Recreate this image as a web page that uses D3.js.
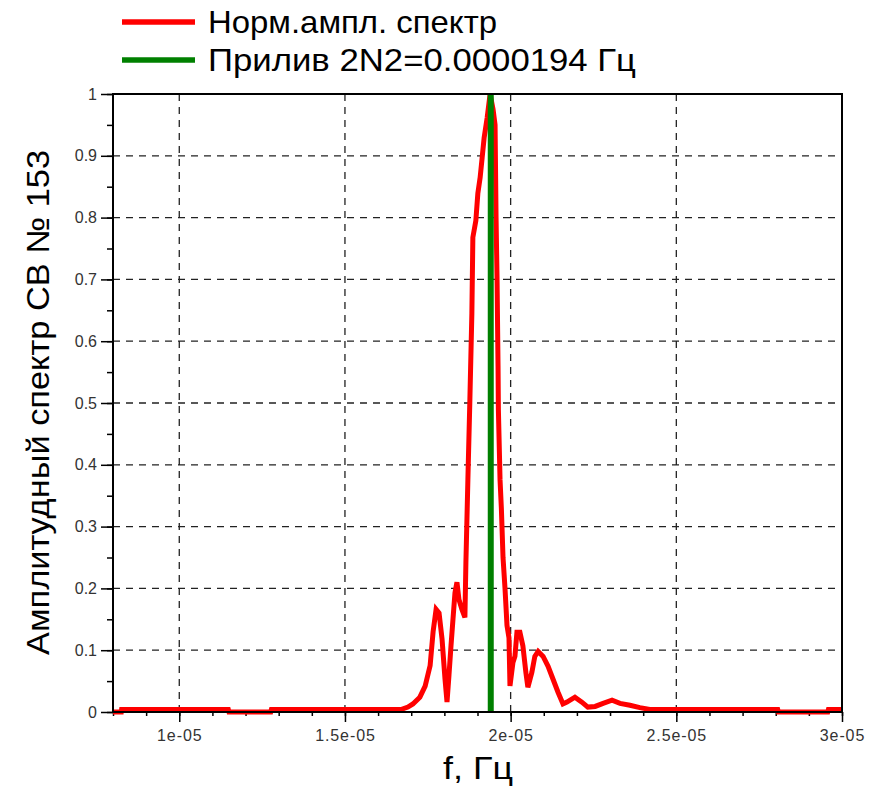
<!DOCTYPE html>
<html>
<head>
<meta charset="utf-8">
<script src="https://cdn.jsdelivr.net/npm/d3@7"></script>
<style>
    body { margin: 0; background: #fff; }
    .chart text { font-family: "Liberation Sans", Arial, sans-serif; }
</style>
</head>
<body>
<div class="chart"></div>
<script>
// spectrum, frequency in Hz
var freq = [
    0.800e-5, 0.825e-5, 0.826e-5, 1.148e-5, 1.150e-5, 1.276e-5, 1.278e-5, 1.669e-5,
    1.690e-5, 1.705e-5, 1.726e-5, 1.742e-5, 1.757e-5, 1.766e-5, 1.775e-5, 1.784e-5,
    1.793e-5, 1.802e-5, 1.808e-5, 1.814e-5, 1.820e-5, 1.826e-5, 1.832e-5, 1.838e-5,
    1.844e-5, 1.853e-5, 1.862e-5, 1.865e-5, 1.871e-5, 1.877e-5, 1.883e-5, 1.886e-5,
    1.895e-5, 1.901e-5, 1.908e-5, 1.914e-5, 1.920e-5, 1.929e-5, 1.938e-5, 1.947e-5,
    1.953e-5, 1.956e-5, 1.959e-5, 1.962e-5, 1.963e-5, 1.968e-5, 1.972e-5, 1.977e-5,
    1.983e-5, 1.989e-5, 1.995e-5, 1.998e-5, 2.007e-5, 2.013e-5, 2.019e-5, 2.028e-5,
    2.037e-5, 2.046e-5, 2.052e-5, 2.064e-5, 2.073e-5, 2.083e-5, 2.098e-5, 2.113e-5,
    2.128e-5, 2.143e-5, 2.158e-5, 2.170e-5, 2.194e-5, 2.215e-5, 2.233e-5, 2.255e-5,
    2.279e-5, 2.306e-5, 2.330e-5, 2.360e-5, 2.390e-5, 2.420e-5, 2.806e-5, 2.808e-5,
    2.957e-5, 2.959e-5, 3.000e-5
];
var ampl = [
    0.000, 0.000, 0.004, 0.004, 0.000, 0.000, 0.004, 0.004,
    0.008, 0.013, 0.024, 0.042, 0.075, 0.130, 0.166, 0.160,
    0.118, 0.053, 0.016, 0.060, 0.107, 0.150, 0.193, 0.210,
    0.182, 0.166, 0.153, 0.242, 0.376, 0.505, 0.645, 0.768,
    0.795, 0.839, 0.865, 0.897, 0.929, 0.961, 1.000, 0.975,
    0.950, 0.800, 0.700, 0.560, 0.490, 0.376, 0.330, 0.250,
    0.200, 0.140, 0.120, 0.042, 0.080, 0.090, 0.129, 0.129,
    0.107, 0.064, 0.040, 0.064, 0.090, 0.098, 0.090, 0.074,
    0.053, 0.032, 0.013, 0.016, 0.024, 0.016, 0.008, 0.009,
    0.014, 0.019, 0.014, 0.011, 0.007, 0.004, 0.004, 0.000,
    0.000, 0.004, 0.004
];
var tideFreq = 1.94e-5;

var xDomain = [0.8e-5, 3e-5];
var xTicks = [1e-5, 1.5e-5, 2e-5, 2.5e-5, 3e-5];
var xTickLabels = ["1e-05", "1.5e-05", "2e-05", "2.5e-05", "3e-05"];
var yTicks = [0, 0.1, 0.2, 0.3, 0.4, 0.5, 0.6, 0.7, 0.8, 0.9, 1];
var yTickLabels = ["0", "0.1", "0.2", "0.3", "0.4", "0.5", "0.6", "0.7", "0.8", "0.9", "1"];
var legendLabels = ["Норм.ампл. спектр", "Прилив 2N2=0.0000194 Гц"];
var legendColors = ["#ff0000", "#008000"];
var xTitle = "f, Гц";
var yTitle = "Амплитудный спектр СВ № 153";

var width = 882, height = 789,
    margin = {top: 94, right: 40, bottom: 77, left: 113},
    plotWidth = width - margin.left - margin.right,
    plotHeight = height - margin.top - margin.bottom;

var svg = d3.select(".chart").append("svg").attr("width", width).attr("height", height);
var plot = svg.append("g").attr("transform", "translate(" + margin.left + "," + margin.top + ")");

var xScale = d3.scaleLinear().domain(xDomain).range([0, plotWidth]);
var yScale = d3.scaleLinear().domain([0, 1]).range([plotHeight, 0]);

// minor tick positions
var xMinor = d3.range(8, 30.5, 1).map(function(d) { return d * 1e-6; });
var yMinor = d3.range(0, 20.5, 1).map(function(d) { return d * 0.05; });

// grid
plot.append("g").selectAll("line")
    .data(xTicks.slice(0, -1))
    .enter().append("line")
    .attr("x1", function(d) { return xScale(d); })
    .attr("x2", function(d) { return xScale(d); })
    .attr("y1", 0).attr("y2", plotHeight)
    .attr("stroke", "#222").attr("stroke-width", 1.3).attr("stroke-dasharray", "7,6");
plot.append("g").selectAll("line")
    .data(yTicks.slice(1, -1))
    .enter().append("line")
    .attr("x1", 0).attr("x2", plotWidth)
    .attr("y1", function(d) { return yScale(d); })
    .attr("y2", function(d) { return yScale(d); })
    .attr("stroke", "#222").attr("stroke-width", 1.3).attr("stroke-dasharray", "7,6");

// axes
var xAxisMinor = plot.append("g").attr("transform", "translate(0," + plotHeight + ")")
    .call(d3.axisBottom(xScale).tickValues(xMinor).tickSize(4).tickFormat(""));
var xAxis = plot.append("g").attr("transform", "translate(0," + plotHeight + ")")
    .call(d3.axisBottom(xScale).tickValues(xTicks).tickSize(10).tickPadding(8)
        .tickFormat(function(d, i) { return xTickLabels[i]; }));
var yAxisMinor = plot.append("g")
    .call(d3.axisLeft(yScale).tickValues(yMinor).tickSize(6).tickFormat(""));
var yAxis = plot.append("g")
    .call(d3.axisLeft(yScale).tickValues(yTicks).tickSize(12).tickPadding(4)
        .tickFormat(function(d, i) { return yTickLabels[i]; }));

[xAxisMinor, xAxis, yAxisMinor, yAxis].forEach(function(g) {
    g.select(".domain").remove();
    g.selectAll(".tick line").attr("stroke", "#000").attr("stroke-width", 1.5);
    g.selectAll(".tick text").attr("font-size", 16).attr("fill", "#333");
});
xAxis.selectAll(".tick text").attr("letter-spacing", 0.9);

// spectrum
var points = freq.map(function(f, i) { return [f, ampl[i]]; });
var line = d3.line()
    .x(function(d) { return xScale(d[0]); })
    .y(function(d) { return yScale(d[1]); });

plot.append("path")
    .datum(points)
    .attr("d", line)
    .attr("fill", "none")
    .attr("stroke", legendColors[0])
    .attr("stroke-width", 5)
    .attr("stroke-linejoin", "miter");

// tide line
plot.append("line")
    .attr("x1", xScale(tideFreq)).attr("x2", xScale(tideFreq))
    .attr("y1", 0).attr("y2", plotHeight)
    .attr("stroke", legendColors[1])
    .attr("stroke-width", 6);

// frame
plot.append("rect")
    .attr("width", plotWidth).attr("height", plotHeight)
    .attr("fill", "none").attr("stroke", "#000").attr("stroke-width", 2);

// titles
svg.append("text")
    .attr("x", 443)
    .attr("y", 779)
    .attr("font-size", 32)
    .attr("textLength", 70)
    .attr("lengthAdjust", "spacingAndGlyphs")
    .text(xTitle);

svg.append("text")
    .attr("transform", "translate(49,655) rotate(-90)")
    .attr("font-size", 32)
    .attr("textLength", 505)
    .attr("lengthAdjust", "spacingAndGlyphs")
    .text(yTitle);

// legend
var legendWidths = [289, 428];
var legend = svg.append("g")
    .selectAll("g")
    .data(legendLabels)
    .enter().append("g")
    .attr("transform", function(d, i) { return "translate(0," + (22 + i * 38) + ")"; });

legend.append("line")
    .attr("x1", 122).attr("x2", 195)
    .attr("stroke", function(d, i) { return legendColors[i]; })
    .attr("stroke-width", 5.5);

legend.append("text")
    .attr("x", 208)
    .attr("y", 11)
    .attr("font-size", 32)
    .attr("textLength", function(d, i) { return legendWidths[i]; })
    .attr("lengthAdjust", "spacingAndGlyphs")
    .text(function(d) { return d; });
</script>
</body>
</html>
